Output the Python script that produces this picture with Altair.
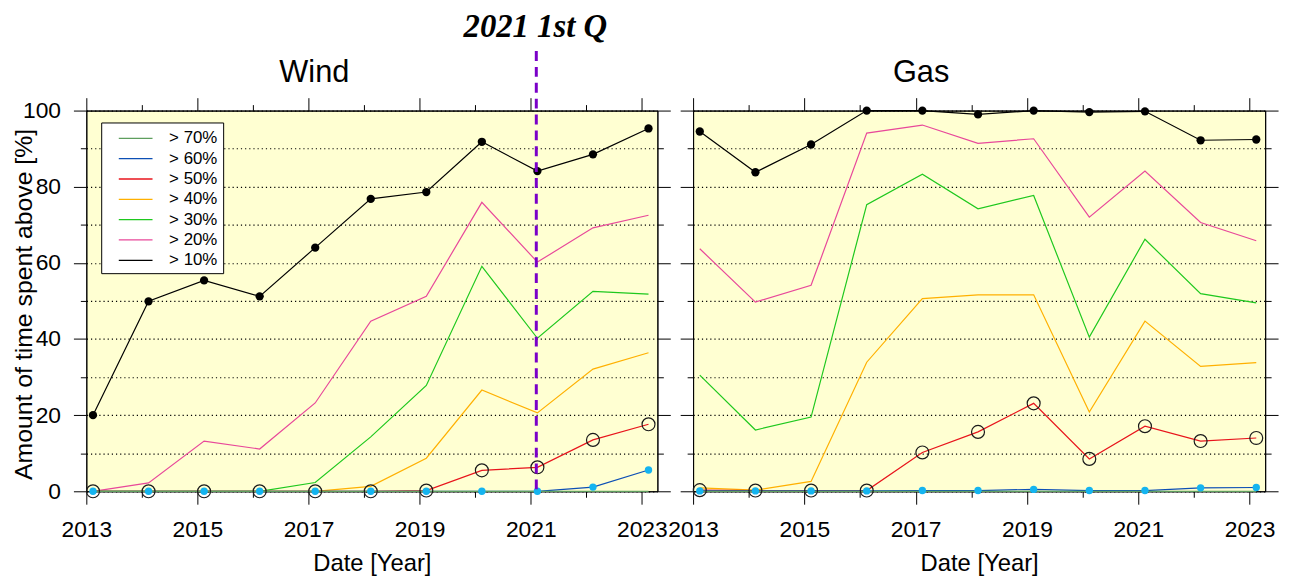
import altair as alt
import pandas as pd

# ---------------- data ----------------
years = list(range(2013, 2024))
# sampling dates (decimal years, first quarter of each year)
sample_x = [2013.12, 2014.12, 2015.12, 2016.12, 2017.12, 2018.12,
            2019.12, 2020.12, 2021.12, 2022.12, 2023.12]

series = ["> 70%", "> 60%", "> 50%", "> 40%", "> 30%", "> 20%", "> 10%"]
line_colors = ["#5e9e5e", "#0d4fb5", "#e8141c", "#ffb000", "#1ec81e", "#e8489a", "#000000"]

wind_70 = [0, 0, 0, 0, 0, 0, 0, 0, 0, 0, 0]
wind_60 = [0, 0, 0, 0, 0, 0, 0, 0, 0, 1.1, 5.6]
wind_50 = [0, 0, 0, 0, 0, 0, 0.2, 5.5, 6.3, 13.5, 17.6]
wind_40 = [0, 0, 0, 0, 0, 1.3, 8.7, 26.6, 20.6, 32.1, 36.4]
wind_30 = [0, 0, 0, 0, 2.3, 14.3, 27.8, 59.1, 40.2, 52.5, 51.8]
wind_20 = [0, 2.2, 13.2, 11.1, 23.2, 44.7, 51.2, 75.9, 60.2, 69.2, 72.5]
wind_10 = [20, 49.9, 55.4, 51.2, 64.0, 76.8, 78.6, 91.8, 84.1, 88.5, 95.3]

gas_70 = [0, 0, 0, 0, 0, 0, 0, 0, 0, 0, 0]
gas_60 = [0.1, 0.1, 0.1, 0.1, 0.2, 0.2, 0.5, 0.2, 0.2, 0.9, 1.0]
gas_50 = [0.3, 0.2, 0.2, 0.2, 10.2, 15.6, 23.1, 8.5, 17.1, 13.2, 14.0]
gas_40 = [0.9, 0.3, 2.6, 33.9, 50.6, 51.6, 51.6, 20.8, 44.7, 32.8, 33.8]
gas_30 = [30.5, 16.1, 19.5, 75.3, 83.3, 74.2, 77.7, 40.5, 66.2, 51.9, 49.5]
gas_20 = [63.7, 49.7, 54.1, 94.1, 96.2, 91.4, 92.6, 72.0, 84.1, 70.6, 65.8]
gas_10 = [94.5, 83.8, 91.1, 100, 100, 99.0, 100, 99.6, 99.8, 92.2, 92.4]

quarter_mark = [2021.1]
quarter_label = ["2021 1st Q"]
panel_titles = ["Wind", "Gas"]
y_title = "Amount of time spent above [%]"
x_title = "Date [Year]"


def long_df(cols):
    rows = []
    for name, vals in cols:
        for xv, v in zip(sample_x, vals):
            rows.append({"series": name, "x": xv, "value": v})
    return pd.DataFrame(rows)


wind_df = long_df([("> 10%", wind_10), ("> 20%", wind_20), ("> 30%", wind_30),
                   ("> 40%", wind_40), ("> 50%", wind_50), ("> 60%", wind_60),
                   ("> 70%", wind_70)])
gas_df = long_df([("> 10%", gas_10), ("> 20%", gas_20), ("> 30%", gas_30),
                  ("> 40%", gas_40), ("> 50%", gas_50), ("> 60%", gas_60),
                  ("> 70%", gas_70)])

# ---------------- styling helpers ----------------
xscale = alt.Scale(domain=[2013, 2023.28], nice=False, zero=False)
yscale = alt.Scale(domain=[0, 100], nice=False)
color_scale = alt.Scale(domain=series, range=line_colors)

PW = 576
PH = 384


def x_axis(orient, show_labels, title):
    return alt.Axis(
        orient=orient, values=years, format="d", labels=show_labels,
        labelExpr="datum.value % 2 == 1 ? datum.label : ''",
        tickSize={"condition": {"test": "datum.value % 2 == 1", "value": 13}, "value": 6},
        labelPadding=15, labelFlush=False, labelOverlap=False, grid=False,
        title=title, titlePadding=10,
    )


def y_axis(orient, show_labels, title, grid):
    return alt.Axis(
        orient=orient, values=list(range(0, 101, 10)), labels=show_labels,
        labelExpr="datum.value % 20 == 0 ? datum.label : ''",
        tickSize={"condition": {"test": "datum.value % 20 == 0", "value": 13}, "value": 6},
        labelPadding=13, labelOverlap=False, grid=grid, gridDash=[1.2, 3],
        gridColor="black", gridWidth=1.2, gridOpacity=1,
        title=title, titleX=-63, titleY=195, titleAngle=270, titleAlign="center",
        titleBaseline="middle", titleFontSize=25,
    )


# legend line symbol in the legend's unit coordinates
def seg_path():
    return "M0.17,0L3.49,0"


line_legend = alt.Legend(
    title=None, orient="none", legendX=15, legendY=12,
    symbolType=seg_path(), symbolSize=420, symbolStrokeWidth=1.3, symbolOpacity=1,
    labelFont="Liberation Sans", labelFontSize=17, labelColor="black",
    labelOffset=41.5, padding=5, rowPadding=1.5,
    fillColor="white", strokeColor="black",
    labelExpr="datum.label + '\u00a0\u00a0\u00a0'",
)


def panel(df, title_text, title_x, is_wind):
    base = alt.Chart(df)
    lines = base.mark_line(strokeWidth=1.2).encode(
        x=alt.X("x:Q", scale=xscale, axis=x_axis("bottom", True, x_title)),
        y=alt.Y("value:Q", scale=yscale,
                axis=y_axis("left", is_wind, y_title if is_wind else None, True)),
        color=alt.Color("series:N", scale=color_scale,
                        legend=line_legend if is_wind else None),
    )
    circles = base.transform_filter(alt.datum.series == "> 50%").mark_point(
        shape="circle", size=170, filled=False, color="#1a1a1a", strokeWidth=1.2, opacity=1
    ).encode(
        x=alt.X("x:Q", scale=xscale, axis=x_axis("top", False, None)),
        y=alt.Y("value:Q", scale=yscale, axis=y_axis("right", False, None, False)),
    )
    cyan = base.transform_filter(alt.datum.series == "> 60%").mark_circle(
        size=55, color="#14b4f0", opacity=1
    ).encode(
        x=alt.X("x:Q", scale=xscale, axis=None),
        y=alt.Y("value:Q", scale=yscale, axis=None),
    )
    black = base.transform_filter(alt.datum.series == "> 10%").mark_circle(
        size=70, color="#000000", opacity=1
    ).encode(
        x=alt.X("x:Q", scale=xscale, axis=None),
        y=alt.Y("value:Q", scale=yscale, axis=None),
    )
    ttl = alt.Chart(pd.DataFrame({"t": [title_text]})).mark_text(
        font="Liberation Sans", fontSize=31, baseline="alphabetic", align="center", color="black"
    ).encode(x=alt.value(title_x), y=alt.value(-29), text="t:N")

    layers = [lines, circles, cyan, black, ttl]
    if is_wind:
        rule = alt.Chart(pd.DataFrame({"x": quarter_mark})).mark_rule(
            color="#7a00c8", strokeWidth=3, strokeDash=[10, 6]
        ).encode(
            x=alt.X("x:Q", scale=xscale, axis=None),
            y=alt.value(-60), y2=alt.value(PH),
        )
        qtext = alt.Chart(pd.DataFrame({"x": quarter_mark, "t": quarter_label})).mark_text(
            font="Liberation Serif", fontSize=33, fontStyle="italic", fontWeight="bold",
            baseline="top", align="center", dx=-1, color="black"
        ).encode(
            x=alt.X("x:Q", scale=xscale, axis=None),
            y=alt.value(-100), text="t:N",
        )
        layers = [lines, circles, cyan, black, rule, qtext, ttl]

    return alt.layer(*layers).resolve_axis(x="independent", y="independent").properties(
        width=PW if is_wind else PW + 1, height=PH
    )


wind = panel(wind_df, panel_titles[0], 230, True)
gas = panel(gas_df, panel_titles[1], 230, False)

chart = alt.hconcat(wind, gas, spacing=36, bounds="flush").resolve_scale(
    color="independent"
).configure_view(
    fill="#ffffd2", stroke="black", strokeWidth=1
).configure_axis(
    labelFont="Liberation Sans", labelFontSize=23, labelColor="black",
    titleFont="Liberation Sans", titleFontSize=24, titleFontWeight="normal", titleColor="black",
    domainColor="black", tickColor="black", domainWidth=1, tickWidth=1,
).properties(
    padding={"left": 3, "top": 0, "right": 5, "bottom": 0}
)

chart.save("out.html", embed_options={"renderer": "svg", "actions": False})
